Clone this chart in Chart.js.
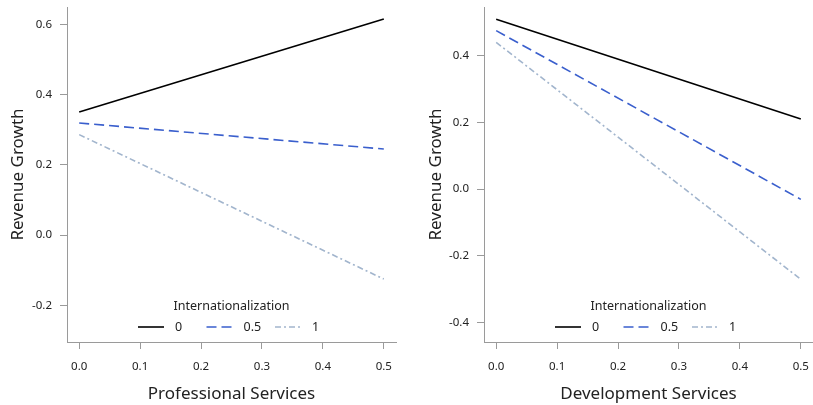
<!DOCTYPE html>
<html>
<head>
<meta charset="utf-8">
<script src="https://cdn.jsdelivr.net/npm/chart.js@4/dist/chart.umd.min.js"></script>
<style>
  html, body { margin: 0; padding: 0; background: #fff; }
  #wrap { position: relative; width: 813px; height: 405px; }
  .pane { position: absolute; top: 0; height: 405px; }
</style>
</head>
<body>
<div id="wrap">
  <div class="pane" style="left:0;width:406px"><canvas id="c1" width="406" height="405"></canvas></div>
  <div class="pane" style="left:406px;width:407px"><canvas id="c2" width="407" height="405"></canvas></div>
</div>
<script>
// ---- data ----
const xValues = [0, 0.5];
const seriesNames = ['0', '0.5', '1'];
const legendTitle = 'Internationalization';
const yTitle = 'Revenue Growth';

const profTitle = 'Professional Services';
const prof0 = [0.350, 0.615];
const prof05 = [0.319, 0.245];
const prof1 = [0.286, -0.125];

const devTitle = 'Development Services';
const dev0 = [0.509, 0.210];
const dev05 = [0.475, -0.031];
const dev1 = [0.440, -0.271];

const xTicks = [0, 0.1, 0.2, 0.3, 0.4, 0.5];
const profYTicks = [-0.2, 0.0, 0.2, 0.4, 0.6];
const devYTicks = [-0.4, -0.2, 0.0, 0.2, 0.4];

// ---- styles ----
const FONT = "'Noto Sans', 'DejaVu Sans', sans-serif";
const AXIS_COLOR = '#9a9a9a';
const TEXT_COLOR = '#222222';
const styles = [
  { color: '#000000', dash: [], width: 1.6 },
  { color: '#3a5fcd', dash: [10, 5], width: 1.6 },
  { color: '#a2b5cd', dash: [6, 3, 2, 3], width: 1.6 }
];

function pts(ys) { return xValues.map((x, i) => ({ x: x, y: ys[i] })); }

const legendPlugin = {
  id: 'innerLegend',
  afterDraw(chart) {
    const ctx = chart.ctx;
    const a = chart.chartArea;
    const cx = (a.left + a.right) / 2;
    ctx.save();
    ctx.fillStyle = TEXT_COLOR;
    ctx.font = "12.5px " + FONT;
    ctx.textAlign = 'center';
    ctx.textBaseline = 'middle';
    ctx.fillText(legendTitle, cx, a.bottom - 36);
    const y = a.bottom - 15;
    chart.data.datasets.forEach((ds, i) => {
      const x0 = cx - 93.5 + i * 68.5;
      ctx.beginPath();
      ctx.strokeStyle = ds.borderColor;
      ctx.lineWidth = ds.borderWidth;
      ctx.setLineDash(ds.borderDash || []);
      ctx.moveTo(x0, y);
      ctx.lineTo(x0 + 26, y);
      ctx.stroke();
      ctx.setLineDash([]);
      ctx.textAlign = 'left';
      ctx.fillStyle = TEXT_COLOR;
      ctx.fillText(ds.label, x0 + 37, y);
    });
    ctx.restore();
  }
};

function makeChart(id, series, yTicks, xTitle, yMin, yMax, padRight, yWidth, yTitlePad) {
  const datasets = series.map((s, i) => ({
    label: seriesNames[i],
    data: pts(s),
    borderColor: styles[i].color,
    borderDash: styles[i].dash,
    borderWidth: styles[i].width,
    pointRadius: 0,
    fill: false,
    tension: 0
  }));
  return new Chart(document.getElementById(id), {
    type: 'line',
    data: { datasets: datasets },
    plugins: [legendPlugin],
    options: {
      responsive: false,
      animation: false,
      devicePixelRatio: 1,
      layout: { padding: { top: 7, right: padRight, left: 0, bottom: 0 } },
      plugins: { legend: { display: false }, tooltip: { enabled: false } },
      scales: {
        x: {
          type: 'linear',
          min: -0.02, max: 0.52,
          afterBuildTicks(scale) { scale.ticks = xTicks.map(v => ({ value: v })); },
          afterFit(scale) { scale.height = 63; scale.paddingLeft = 0; scale.paddingRight = 0; },
          ticks: {
            color: TEXT_COLOR, padding: 11,
            font: { family: FONT, size: 11.5 },
            callback: v => Number(v).toFixed(1),
            maxRotation: 0, autoSkip: false
          },
          grid: { drawOnChartArea: false, drawTicks: true, tickLength: 7, color: AXIS_COLOR },
          border: { display: true, color: AXIS_COLOR, width: 1 },
          title: { display: true, text: xTitle, color: TEXT_COLOR, font: { family: FONT, size: 17 }, padding: { top: 0, bottom: 1 } }
        },
        y: {
          type: 'linear',
          min: yMin, max: yMax,
          afterBuildTicks(scale) { scale.ticks = yTicks.map(v => ({ value: v })); },
          afterFit(scale) { scale.width = yWidth; scale.paddingTop = 0; scale.paddingBottom = 0; },
          ticks: {
            color: TEXT_COLOR, padding: 8,
            font: { family: FONT, size: 11.5 },
            callback: v => Number(v).toFixed(1),
            autoSkip: false
          },
          grid: { drawOnChartArea: false, drawTicks: true, tickLength: 7, color: AXIS_COLOR },
          border: { display: true, color: AXIS_COLOR, width: 1 },
          title: { display: true, text: yTitle, color: TEXT_COLOR, font: { family: FONT, size: 17 }, padding: { top: yTitlePad, bottom: 0 } }
        }
      }
    }
  });
}

makeChart('c1', [prof0, prof05, prof1], profYTicks, profTitle, -0.304, 0.649, 10, 67, 8.4);
makeChart('c2', [dev0, dev05, dev1], devYTicks, devTitle, -0.459, 0.546, 0, 78, 20.4);
</script>
</body>
</html>
